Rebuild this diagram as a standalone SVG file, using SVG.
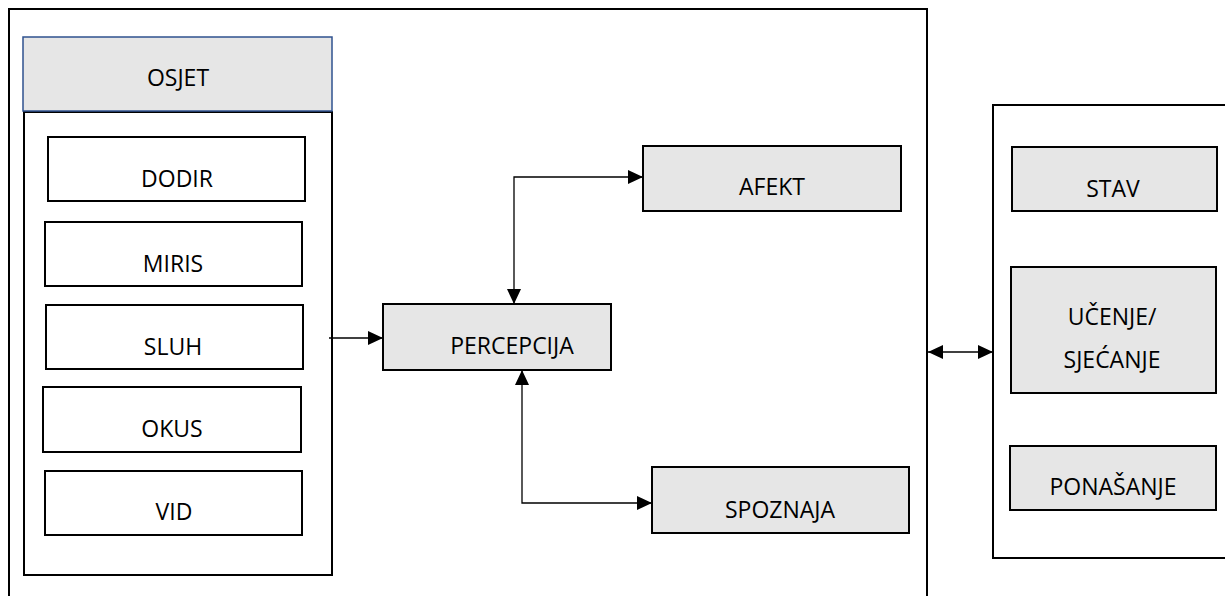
<svg xmlns="http://www.w3.org/2000/svg" width="1225" height="596" viewBox="0 0 1225 596">
<style>
.frame{fill:none;stroke:#000;stroke-width:2}
.box{fill:#fff;stroke:#000;stroke-width:2}
.gbox{fill:#e6e6e6;stroke:#000;stroke-width:2}
.hdr{fill:#e6e6e6;stroke:#2f528f;stroke-width:1.5}
.lbl{font-family:"Open Sans","Liberation Sans",sans-serif;font-size:23px;fill:#000;text-anchor:middle}
.conn{fill:none;stroke:#000;stroke-width:1.3}
</style>
<defs>
<marker id="arr" viewBox="0 0 15 14" refX="15" refY="7" markerWidth="15" markerHeight="14" markerUnits="userSpaceOnUse" orient="auto-start-reverse">
<path d="M0,0 L15,7 L0,14 Z" fill="#000"/>
</marker>
</defs>
<rect width="1225" height="596" fill="#fff"/>
<g id="outer-left"><rect class="frame" x="9" y="9" width="918" height="600"/></g>
<g id="outer-right"><rect class="frame" x="993" y="105" width="250" height="453"/></g>
<g id="osjet-panel"><rect class="box" x="24" y="112" width="308" height="463"/></g>
<g id="osjet"><rect class="hdr" x="23" y="37" width="309" height="74"/><text class="lbl" x="178" y="86">OSJET</text></g>
<g id="dodir"><rect class="box" x="48" y="137" width="257" height="64"/><text class="lbl" x="177" y="187">DODIR</text></g>
<g id="miris"><rect class="box" x="45" y="222" width="257" height="64"/><text class="lbl" x="173" y="272">MIRIS</text></g>
<g id="sluh"><rect class="box" x="46" y="305" width="257" height="64"/><text class="lbl" x="173" y="355">SLUH</text></g>
<g id="okus"><rect class="box" x="43" y="387" width="258" height="65"/><text class="lbl" x="172" y="437">OKUS</text></g>
<g id="vid"><rect class="box" x="45" y="471" width="257" height="64"/><text class="lbl" x="174" y="520">VID</text></g>
<g id="percepcija"><rect class="gbox" x="383" y="304" width="228" height="66"/><text class="lbl" x="512" y="354">PERCEPCIJA</text></g>
<g id="afekt"><rect class="gbox" x="643" y="146" width="258" height="65"/><text class="lbl" x="772" y="195">AFEKT</text></g>
<g id="spoznaja"><rect class="gbox" x="652" y="467" width="257" height="66"/><text class="lbl" x="780" y="518">SPOZNAJA</text></g>
<g id="stav"><rect class="gbox" x="1012" y="147" width="205" height="64"/><text class="lbl" x="1113" y="197">STAV</text></g>
<g id="ucenje"><rect class="gbox" x="1011" y="267" width="205" height="126"/><text class="lbl" x="1112" y="325">UČENJE/</text><text class="lbl" x="1112" y="368">SJEĆANJE</text></g>
<g id="ponasanje"><rect class="gbox" x="1010" y="446" width="206" height="64"/><text class="lbl" x="1113" y="495">PONAŠANJE</text></g>
<g id="connectors">
<path class="conn" d="M329,338 H383" marker-end="url(#arr)"/>
<path class="conn" d="M514,304 V177 H643" marker-start="url(#arr)" marker-end="url(#arr)"/>
<path class="conn" d="M522,370 V503 H652" marker-start="url(#arr)" marker-end="url(#arr)"/>
<path class="conn" d="M928,352 H993" marker-start="url(#arr)" marker-end="url(#arr)"/>
</g>
</svg>
